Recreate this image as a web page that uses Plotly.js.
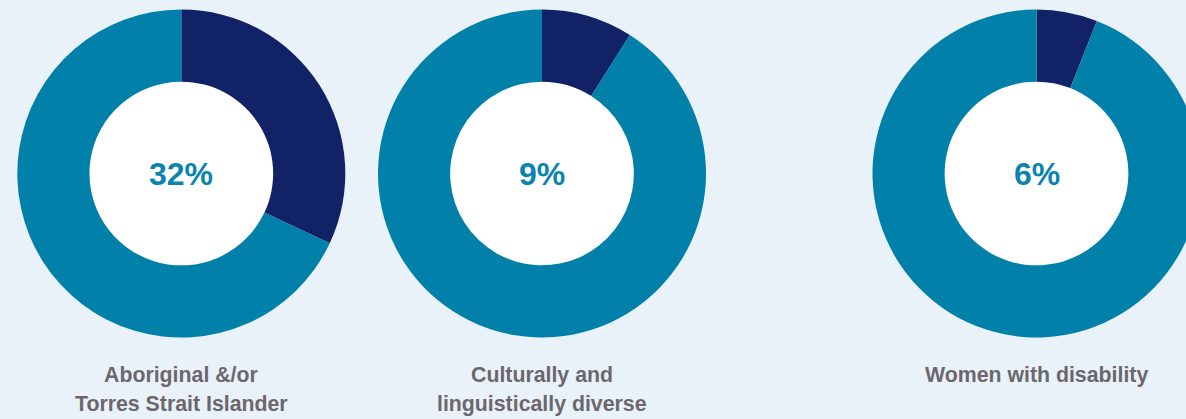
<!DOCTYPE html>
<html>
<head>
<meta charset="utf-8">
<script src="https://cdn.plot.ly/plotly-3.0.1.min.js"></script>
<style>
html,body{margin:0;padding:0;overflow:hidden;background:#e8f2f8;width:1186px;height:419px;}
#chart{width:1240px;height:419px;}
</style>
</head>
<body>
<div id="chart"></div>
<script>
const categories = ["Aboriginal &/or<br>Torres Strait Islander", "Culturally and<br>linguistically diverse", "Women with disability"];
const shareValues = [32, 9, 6];
const restValues = [68, 91, 94];
const sliceColors = ["#122266", "#0180aa"];

const W = 1240, H = 419;
const centersX = [181.3, 542, 1036.5];
const cy = 173.5, R = 164, HOLE = 0.56;
const labelLineY = [375, 404];

const data = [], annotations = [];
// white discs behind the donut holes
categories.forEach((cat, i) => {
  const cx = centersX[i], r = R * HOLE + 1;
  data.push({
    type: "pie", values: [1], labels: ["bg"],
    marker: {colors: ["#ffffff"], line: {width: 0}},
    textinfo: "none", hoverinfo: "none", showlegend: false, sort: false,
    domain: {x: [(cx - r) / W, (cx + r) / W], y: [(H - cy - r) / H, (H - cy + r) / H]}
  });
});
categories.forEach((cat, i) => {
  const cx = centersX[i];
  data.push({
    type: "pie",
    values: [shareValues[i], restValues[i]],
    labels: ["Share", "Other"],
    marker: {colors: sliceColors, line: {width: 0}},
    hole: HOLE,
    sort: false,
    direction: "clockwise",
    rotation: 0,
    textinfo: "none",
    hoverinfo: "none",
    showlegend: false,
    domain: {x: [(cx - R) / W, (cx + R) / W], y: [(H - cy - R) / H, (H - cy + R) / H]}
  });
  annotations.push({
    xref: "paper", yref: "paper", x: cx / W, y: (H - cy) / H,
    xanchor: "center", yanchor: "middle", showarrow: false,
    text: "<b>" + shareValues[i] + "%</b>",
    font: {family: "Liberation Sans, Arial, sans-serif", size: 32, color: "#0a84ae"}
  });
  cat.split("<br>").forEach((line, j) => {
    annotations.push({
      xref: "paper", yref: "paper", x: cx / W, y: (H - labelLineY[j]) / H,
      xanchor: "center", yanchor: "middle", showarrow: false,
      text: "<b>" + line + "</b>",
      font: {family: "Liberation Sans, Arial, sans-serif", size: 21.3, color: "#6c676d"}
    });
  });
});

Plotly.newPlot("chart", data, {
  width: W, height: H,
  margin: {l: 0, r: 0, t: 0, b: 0},
  paper_bgcolor: "#e8f2f8",
  plot_bgcolor: "#e8f2f8",
  annotations: annotations
}, {staticPlot: true, displayModeBar: false});
</script>
</body>
</html>
